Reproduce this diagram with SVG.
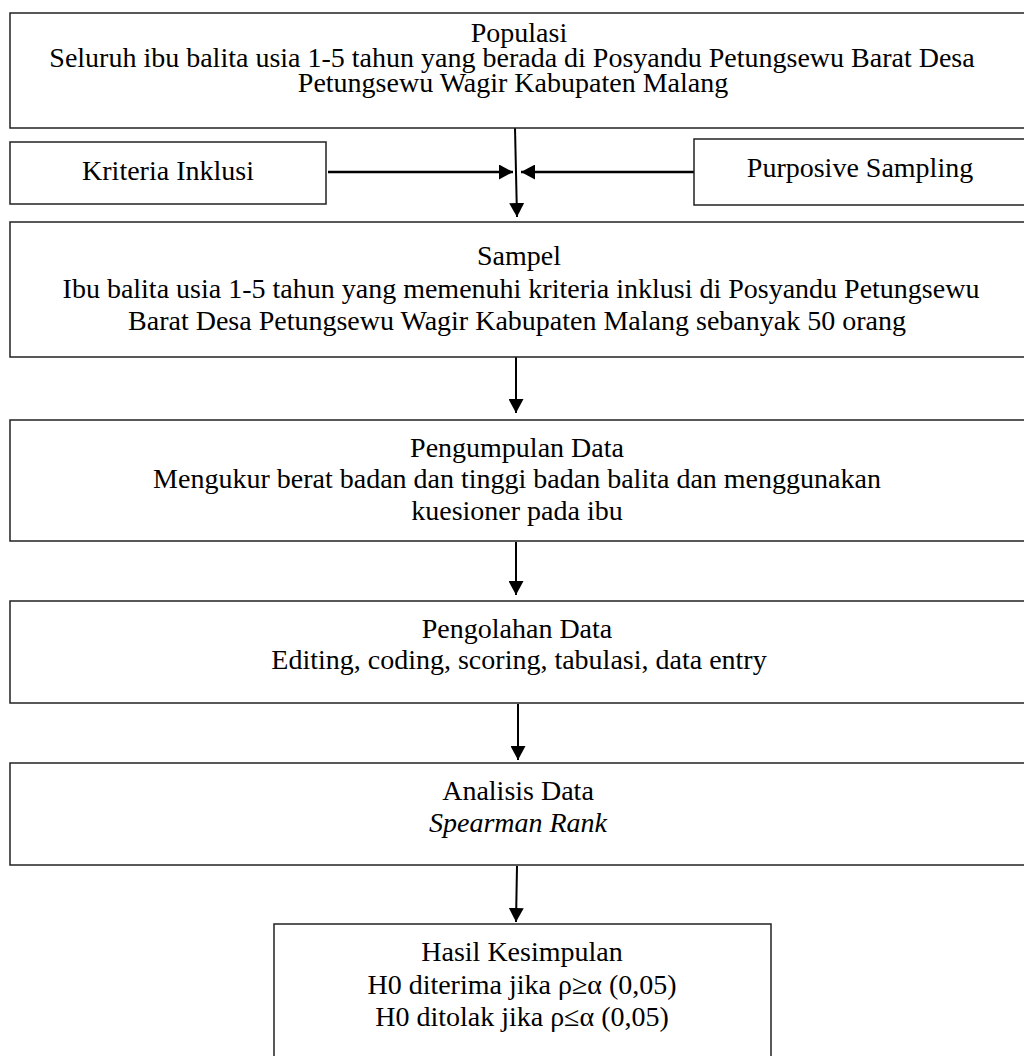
<svg xmlns="http://www.w3.org/2000/svg" width="1024" height="1056" viewBox="0 0 1024 1056">
<defs>
<style>
.box{fill:#fff;stroke:#222;stroke-width:1.5}
.t{font-family:"Liberation Serif","Times New Roman",serif;font-size:28px;fill:#000;text-anchor:middle}
.i{font-style:italic}
.c{stroke:#000;stroke-width:2;fill:none}
.h{stroke-width:2.5}
</style>
<marker id="ah" viewBox="0 0 14 15" refX="14" refY="7.5" markerWidth="14" markerHeight="15" markerUnits="userSpaceOnUse" orient="auto">
<path d="M0,0 L14,7.5 L0,15 Z" fill="#000"/>
</marker>
</defs>
<rect width="1024" height="1056" fill="#fff"/>
<g id="connectors">
<line class="c" x1="515" y1="128" x2="517" y2="217" marker-end="url(#ah)"/>
<line class="c h" x1="328" y1="172" x2="513" y2="172" marker-end="url(#ah)"/>
<line class="c h" x1="694" y1="172" x2="521" y2="172" marker-end="url(#ah)"/>
<line class="c" x1="516" y1="357" x2="516" y2="413" marker-end="url(#ah)"/>
<line class="c" x1="516" y1="542" x2="516" y2="595" marker-end="url(#ah)"/>
<line class="c" x1="518" y1="704" x2="518" y2="760" marker-end="url(#ah)"/>
<line class="c" x1="517" y1="866" x2="516" y2="922" marker-end="url(#ah)"/>
</g>
<g id="populasi">
<rect class="box" x="10" y="13" width="1020" height="115"/>
<text class="t" x="519" y="42">Populasi</text>
<text class="t" x="512" y="67">Seluruh ibu balita usia 1-5 tahun yang berada di Posyandu Petungsewu Barat Desa</text>
<text class="t" x="513" y="92">Petungsewu Wagir Kabupaten Malang</text>
</g>
<g id="kriteria">
<rect class="box" x="10" y="142" width="316" height="62"/>
<text class="t" x="168" y="180">Kriteria Inklusi</text>
</g>
<g id="purposive">
<rect class="box" x="694" y="139" width="336" height="66"/>
<text class="t" x="860" y="177">Purposive Sampling</text>
</g>
<g id="sampel">
<rect class="box" x="10" y="222" width="1020" height="135"/>
<text class="t" x="519" y="265">Sampel</text>
<text class="t" x="521" y="298">Ibu balita usia 1-5 tahun yang memenuhi kriteria inklusi di Posyandu Petungsewu</text>
<text class="t" x="517" y="330">Barat Desa Petungsewu Wagir Kabupaten Malang sebanyak 50 orang</text>
</g>
<g id="pengumpulan">
<rect class="box" x="10" y="420" width="1020" height="121"/>
<text class="t" x="517" y="457">Pengumpulan Data</text>
<text class="t" x="517" y="488">Mengukur berat badan dan tinggi badan balita dan menggunakan</text>
<text class="t" x="517" y="520">kuesioner pada ibu</text>
</g>
<g id="pengolahan">
<rect class="box" x="10" y="601" width="1020" height="102"/>
<text class="t" x="517" y="638">Pengolahan Data</text>
<text class="t" x="519" y="669">Editing, coding, scoring, tabulasi, data entry</text>
</g>
<g id="analisis">
<rect class="box" x="10" y="763" width="1020" height="102"/>
<text class="t" x="518" y="800">Analisis Data</text>
<text class="t i" x="518" y="832">Spearman Rank</text>
</g>
<g id="hasil">
<rect class="box" x="274" y="924" width="497" height="144"/>
<text class="t" x="522" y="961">Hasil Kesimpulan</text>
<text class="t" x="522" y="994">H0 diterima jika ρ≥α (0,05)</text>
<text class="t" x="522" y="1026">H0 ditolak jika ρ≤α (0,05)</text>
</g>
</svg>
